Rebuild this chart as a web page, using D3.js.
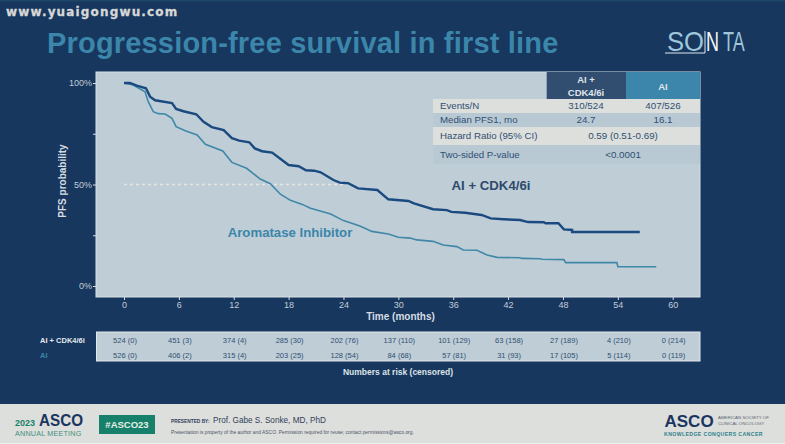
<!DOCTYPE html>
<html>
<head>
<meta charset="utf-8">
<script src="https://cdnjs.cloudflare.com/ajax/libs/d3/7.8.5/d3.min.js"></script>
<style>
html, body { margin: 0; padding: 0; background: #17375e; overflow: hidden; }
text { font-family: "Liberation Sans", Arial, sans-serif; }
</style>
</head>
<body>
<div id="chart"></div>
<script>
// months / percent
var comboT = [0,0.65,1.4,2.4,2.85,3.4,5.25,5.7,6.5,7.9,8.7,9.6,10.9,11.8,12.6,13.7,14.3,15.1,16.2,18,19.1,19.9,20.8,21.5,22.9,23.6,24.5,25.6,27.7,28.9,31.1,31.7,33.8,35.3,35.8,37.3,39.1,40.1,41.5,43.3,44.2,45.9,46.1,47.5,48.1,49,49,56.4];
var comboS = [100,100,98.7,97.4,93.3,91.5,90.1,87.2,86.1,84.6,80.9,78.3,76.8,72.8,71.6,70.8,67.8,66.4,65.7,59.6,59,57,56.8,56,52.2,50.9,50.6,48.1,47.3,42.7,41.9,40.7,37.8,37.4,36.5,36.1,35,33.3,32.9,32.5,31.5,31.4,30.9,30.9,27.9,27.6,26.6,26.6];
var aiT = [0,1,2.3,2.65,3.2,3.75,4.5,5.25,5.7,6.7,8,8.9,10.8,11.8,13.4,14.9,16,17.1,18.2,19.5,20.4,22.6,24,25.8,27.1,28.9,30,31.3,32,33.8,34.9,36.4,37.1,38.6,39.7,40.8,43.3,43.5,45.5,45.7,48.1,48.3,53.9,54,58.2];
var aiS = [100,99,95.7,90.8,85.9,84.9,84.7,82.6,78.5,76.5,74.4,69.8,66.5,60.9,58,52.7,50.4,45.2,42.2,40.2,38.3,35.5,32.2,29.6,26.9,25.6,24,23.6,22.7,22,20.2,19.4,17.7,17.6,15.3,14.1,13.9,13.6,13.4,13.2,13,11.5,11.5,9.5,9.5];

var xTicks = [0,6,12,18,24,30,36,42,48,54,60];
var yTicks = [0,25,50,75,100];
var yLabelled = [0,50,100];
var medianLine = [0,24.7];

var riskCombo = ["524 (0)","451 (3)","374 (4)","285 (30)","202 (76)","137 (110)","101 (129)","63 (158)","27 (189)","4 (210)","0 (214)"];
var riskAi = ["526 (0)","406 (2)","315 (4)","203 (25)","128 (54)","84 (68)","57 (81)","31 (93)","17 (105)","5 (114)","0 (119)"];

var tableRows = ["Events/N","Median PFS1, mo","Hazard Ratio (95% CI)","Two-sided P-value"];
var tableCombo = ["310/524","24.7"];
var tableAi = ["407/526","16.1"];
var tableMerged = ["0.59 (0.51-0.69)","<0.0001"];

var navy = "#17375e", teal = "#3b86aa", darkLine = "#1a4a80", aiLine = "#3f88a8", panel = "#bfcdd6", light = "#dddfdc", textBlue = "#2f4f73";

var svg = d3.select("#chart").append("svg").attr("width", 785).attr("height", 444);

svg.append("rect").attr("width", 785).attr("height", 444).attr("fill", navy);

// noisy strip along the top of the slide
svg.append("rect").attr("width", 785).attr("height", 1.5).attr("fill", "#1b4666");

svg.append("text").attr("x", 6).attr("y", 15.5).attr("fill", "#d8d8d8")
  .attr("stroke", "#d8d8d8").attr("stroke-width", 0.3)
  .attr("font-size", 12).attr("font-weight", "bold").attr("letter-spacing", 1.15)
  .style("font-family", "'DejaVu Sans', sans-serif").text("www.yuaigongwu.com");

svg.append("text").attr("x", 47).attr("y", 53).attr("fill", teal)
  .attr("font-size", 29).attr("font-weight", "bold").attr("letter-spacing", 0.18)
  .text("Progression-free survival in first line");

// SONTA logo, letters squeezed with a scale so they keep the logo's height
var logo = svg.append("g").attr("fill", "#9fc6da").attr("font-size", 27).style("font-family", "Lato, sans-serif").style("font-weight", 300);
logo.append("text").attr("transform", "translate(667,51) scale(0.95,1)").text("SO");
logo.append("text").attr("transform", "translate(706,51) scale(1,1.5)").attr("font-size", 18).attr("fill", "#f2f5f7").text("N");
logo.append("text").attr("transform", "translate(723,51) scale(1,1.5)").attr("font-size", 18).text("TA");
svg.append("path").attr("d", "M665 53H705V31").attr("fill", "none").attr("stroke", "#dfe9ef").attr("stroke-width", 1);

// plot
var x = d3.scaleLinear().domain([0, 60]).range([124, 672.7]);
var y = d3.scaleLinear().domain([0, 100]).range([286, 83]);

svg.append("rect").attr("x", 96).attr("y", 72).attr("width", 604).attr("height", 225)
  .attr("fill", panel).attr("stroke", "#d8dfe4").attr("stroke-width", 1);

var xAxis = svg.append("g").attr("transform", "translate(0,297)")
  .call(d3.axisBottom(x).tickValues(xTicks).tickSize(3).tickPadding(1.5));
xAxis.select(".domain").remove();
xAxis.selectAll("line").attr("stroke", "#d8dfe4");
xAxis.selectAll("text").attr("fill", "#c3cdd6").attr("font-size", 9);

var yAxis = svg.append("g").attr("transform", "translate(96,0)")
  .call(d3.axisLeft(y).tickValues(yTicks).tickSize(3).tickPadding(1)
    .tickFormat(function(d){ return yLabelled.indexOf(d) >= 0 ? d + "%" : ""; }));
yAxis.select(".domain").remove();
yAxis.selectAll("line").attr("stroke", "#d8dfe4");
yAxis.selectAll("text").attr("fill", "#c3cdd6").attr("font-size", 9);

svg.append("text").attr("transform", "translate(66,181) rotate(-90)").attr("text-anchor", "middle")
  .attr("fill", "#d5dde3").attr("font-size", 10).attr("font-weight", "bold").text("PFS probability");
svg.append("text").attr("x", 400.5).attr("y", 319.5).attr("text-anchor", "middle")
  .attr("fill", "#d5dde3").attr("font-size", 10).attr("font-weight", "bold").text("Time (months)");

// median marker
svg.append("line").attr("x1", x(medianLine[0])).attr("x2", x(medianLine[1]))
  .attr("y1", y(50)).attr("y2", y(50))
  .attr("stroke", "#e6e6e0").attr("stroke-width", 1.5).attr("stroke-dasharray", "3 3");

var line = d3.line()
  .x(function(d){ return x(d[0]); })
  .y(function(d){ return y(d[1]); });

svg.append("path").datum(d3.zip(aiT, aiS)).attr("d", line)
  .attr("fill", "none").attr("stroke", aiLine).attr("stroke-width", 1.6);
svg.append("path").datum(d3.zip(comboT, comboS)).attr("d", line)
  .attr("fill", "none").attr("stroke", darkLine).attr("stroke-width", 2.4);

svg.append("text").attr("x", 491).attr("y", 189.5).attr("text-anchor", "middle")
  .attr("fill", "#2e4a6d").attr("font-size", 13.2).attr("font-weight", "bold").text("AI + CDK4/6i");
svg.append("text").attr("x", 290).attr("y", 236.5).attr("text-anchor", "middle")
  .attr("fill", teal).attr("font-size", 13.2).attr("font-weight", "bold").text("Aromatase Inhibitor");

// table on top of the plot
svg.append("rect").attr("x", 546.7).attr("y", 72).attr("width", 79.3).attr("height", 27).attr("fill", "#314d6f");
svg.append("rect").attr("x", 626).attr("y", 72).attr("width", 74).attr("height", 27).attr("fill", teal);
var head = svg.append("g").attr("fill", "#dfe5ea").attr("font-size", 9.5).attr("font-weight", "bold").attr("text-anchor", "middle");
head.append("text").attr("x", 586).attr("y", 83).text("AI +");
head.append("text").attr("x", 586).attr("y", 95.5).text("CDK4/6i");
head.append("text").attr("x", 663).attr("y", 89.5).text("AI");

var rowTop = [99, 113, 127, 145];
var rowH = [14, 14, 18, 19];
var rowFill = [light, "#b9c9d4", light, "#b9c9d4"];
var rows = svg.selectAll("g.row").data(tableRows).enter().append("g").attr("class", "row");
rows.append("rect").attr("x", 433).attr("width", 267)
  .attr("y", function(d, i){ return rowTop[i]; })
  .attr("height", function(d, i){ return rowH[i]; })
  .attr("fill", function(d, i){ return rowFill[i]; });
rows.append("text").attr("x", 440)
  .attr("y", function(d, i){ return rowTop[i] + rowH[i] / 2 + 3.4; })
  .attr("fill", textBlue).attr("font-size", 9.7).text(function(d){ return d; });

function cellText(val, cx, i) {
  svg.append("text").attr("x", cx).attr("y", rowTop[i] + rowH[i] / 2 + 3.4).attr("text-anchor", "middle")
    .attr("fill", textBlue).attr("font-size", 9.8).text(val);
}
tableCombo.forEach(function(d, i){ cellText(d, 586, i); });
tableAi.forEach(function(d, i){ cellText(d, 663, i); });
tableMerged.forEach(function(d, i){ cellText(d, 623, i + 2); });

// numbers at risk
svg.append("rect").attr("x", 96.5).attr("y", 332).attr("width", 603.5).attr("height", 29)
  .attr("fill", panel).attr("stroke", "#e2e7ea").attr("stroke-width", 1);

svg.selectAll("text.riskA").data(riskCombo).enter().append("text").attr("class", "riskA")
  .attr("x", function(d, i){ return x(xTicks[i]) + 1; }).attr("y", 342.8)
  .attr("text-anchor", "middle").attr("fill", textBlue).attr("font-size", 7.5).text(function(d){ return d; });
svg.selectAll("text.riskB").data(riskAi).enter().append("text").attr("class", "riskB")
  .attr("x", function(d, i){ return x(xTicks[i]) + 1; }).attr("y", 357.5)
  .attr("text-anchor", "middle").attr("fill", textBlue).attr("font-size", 7.5).text(function(d){ return d; });

svg.append("text").attr("x", 40).attr("y", 342.8).attr("fill", "#e4e9ec")
  .attr("font-size", 7.5).attr("font-weight", "bold").text("AI + CDK4/6i");
svg.append("text").attr("x", 40).attr("y", 357.5).attr("fill", teal)
  .attr("font-size", 7.5).attr("font-weight", "bold").text("AI");
svg.append("text").attr("x", 398).attr("y", 375).attr("text-anchor", "middle")
  .attr("fill", "#dde3e8").attr("font-size", 8.5).attr("font-weight", "bold").text("Numbers at risk (censored)");

// footer band
svg.append("rect").attr("y", 404).attr("width", 785).attr("height", 39).attr("fill", light);
svg.append("rect").attr("y", 443).attr("width", 785).attr("height", 1).attr("fill", "#eef0ee");

svg.append("text").attr("x", 15).attr("y", 426).attr("fill", "#17806a").attr("font-size", 9).attr("font-weight", "bold").text("2023");
svg.append("text").attr("x", 39).attr("y", 425.5).attr("fill", "#1a3560").attr("font-size", 16).attr("font-weight", "bold")
  .attr("textLength", 44).attr("lengthAdjust", "spacingAndGlyphs").text("ASCO");
svg.append("text").attr("x", 15).attr("y", 435.5).attr("fill", "#3f8f7e").attr("font-size", 7.2).attr("letter-spacing", 0.2).text("ANNUAL MEETING");

svg.append("rect").attr("x", 99).attr("y", 415).attr("width", 56).attr("height", 19).attr("fill", "#17806a");
svg.append("text").attr("x", 127).attr("y", 428).attr("text-anchor", "middle").attr("fill", "#e8efe9")
  .attr("font-size", 9.5).attr("font-weight", "bold").text("#ASCO23");

svg.append("text").attr("x", 171).attr("y", 423).attr("fill", "#33405a").attr("font-size", 4.8).attr("font-weight", "bold").text("PRESENTED BY:");
svg.append("text").attr("x", 213).attr("y", 422.5).attr("fill", "#33405a").attr("font-size", 8.2).text("Prof. Gabe S. Sonke, MD, PhD");
svg.append("text").attr("x", 171).attr("y", 433.5).attr("fill", "#4a5568").attr("font-size", 4.9)
  .text("Presentation is property of the author and ASCO. Permission required for reuse; contact permissions@asco.org.");

svg.append("text").attr("x", 664.5).attr("y", 427).attr("fill", "#1a3560").attr("font-size", 17).attr("font-weight", "bold").text("ASCO");
svg.append("text").attr("x", 718).attr("y", 419).attr("fill", "#5a6472").attr("font-size", 4.4).text("AMERICAN SOCIETY OF");
svg.append("text").attr("x", 718).attr("y", 424.5).attr("fill", "#5a6472").attr("font-size", 4.4).text("CLINICAL ONCOLOGY");
svg.append("text").attr("x", 664).attr("y", 435.5).attr("fill", "#2f7f8e").attr("font-size", 5.2).attr("font-weight", "bold").attr("letter-spacing", 0.38).text("KNOWLEDGE CONQUERS CANCER");
</script>
</body>
</html>
